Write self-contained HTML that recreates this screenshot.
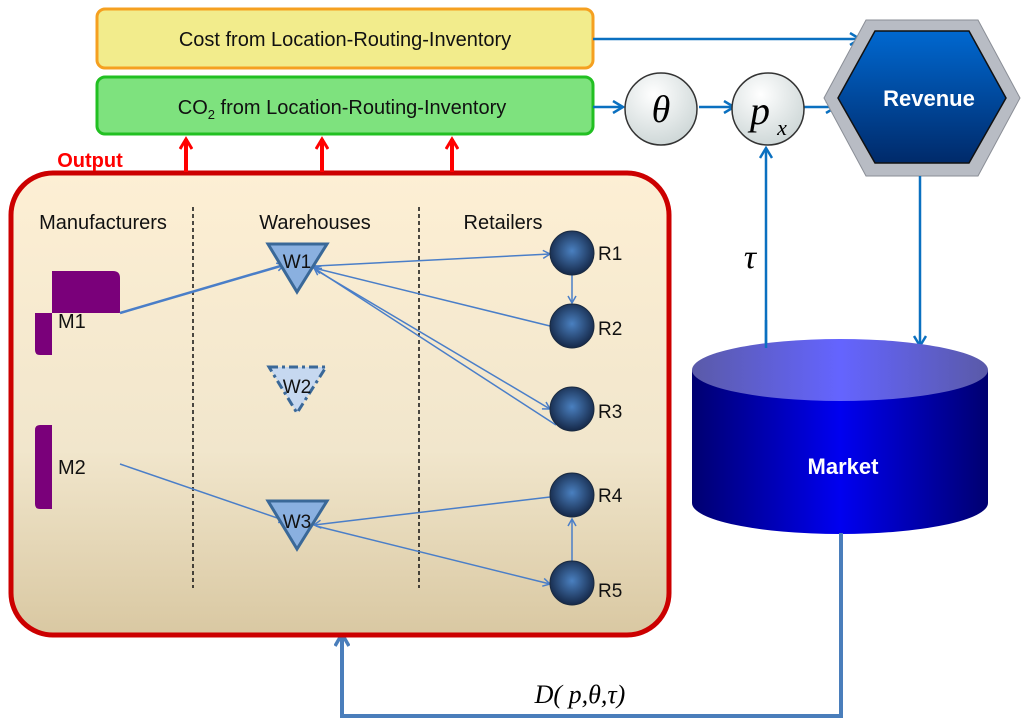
<!DOCTYPE html>
<html><head><meta charset="utf-8"><style>
html,body{margin:0;padding:0;background:#fff;}
svg{display:block;}
text{font-family:"Liberation Sans",sans-serif;}
text.m{font-family:"Liberation Serif",serif;font-style:italic;}
</style></head><body>
<svg width="1024" height="725" viewBox="0 0 1024 725" xmlns="http://www.w3.org/2000/svg">
<defs>
<linearGradient id="bg" x1="0" y1="0" x2="0" y2="1"><stop offset="0" stop-color="#fdefd4"/><stop offset="0.6" stop-color="#f1e6cc"/><stop offset="1" stop-color="#d9c8a2"/></linearGradient>
<linearGradient id="cyl" x1="0" y1="0" x2="1" y2="0"><stop offset="0" stop-color="#000070"/><stop offset="0.5" stop-color="#0000f0"/><stop offset="1" stop-color="#000070"/></linearGradient>
<linearGradient id="cyltop" x1="0" y1="0" x2="1" y2="0"><stop offset="0" stop-color="#5a5aa8"/><stop offset="0.5" stop-color="#6464ff"/><stop offset="1" stop-color="#5a5aa8"/></linearGradient>
<linearGradient id="hex" x1="0" y1="0" x2="0" y2="1"><stop offset="0" stop-color="#0068d0"/><stop offset="1" stop-color="#002a6a"/></linearGradient>
<radialGradient id="ball" cx="0.5" cy="0.45" r="0.55"><stop offset="0" stop-color="#4a80c0"/><stop offset="1" stop-color="#152848"/></radialGradient>
<radialGradient id="wb" cx="0.4" cy="0.3" r="0.7"><stop offset="0" stop-color="#ffffff"/><stop offset="1" stop-color="#cfd8d8"/></radialGradient>
<marker id="a" markerWidth="10" markerHeight="10" refX="8" refY="5" orient="auto" markerUnits="userSpaceOnUse"><path d="M1,1 L8,5 L1,9" fill="none" stroke="#4a7ec8" stroke-width="1.5"/></marker>
<marker id="b" markerWidth="14" markerHeight="14" refX="11" refY="7" orient="auto" markerUnits="userSpaceOnUse"><path d="M1,1 L11,7 L1,13" fill="none" stroke="#0a70c0" stroke-width="2.5"/></marker>
<marker id="r" markerWidth="14" markerHeight="14" refX="11" refY="7" orient="auto" markerUnits="userSpaceOnUse"><path d="M1,1 L11,7 L1,13" fill="none" stroke="#ff0000" stroke-width="3"/></marker>
<marker id="s" markerWidth="16" markerHeight="16" refX="13" refY="8" orient="auto" markerUnits="userSpaceOnUse"><path d="M1,1 L13,8 L1,15" fill="none" stroke="#4a7ebb" stroke-width="3.5"/></marker>
</defs>

<rect x="97" y="9" width="496" height="59" rx="8" fill="#f2ec8c" stroke="#f5a020" stroke-width="3"/>
<text x="345" y="46" font-size="20" text-anchor="middle" fill="#111">Cost from Location-Routing-Inventory</text>
<rect x="97" y="77" width="496" height="57" rx="8" fill="#7ee27e" stroke="#22c022" stroke-width="3"/>
<text x="342" y="114" font-size="20" text-anchor="middle" fill="#111">CO<tspan font-size="13" dy="5">2</tspan><tspan dy="-5"> from Location-Routing-Inventory</tspan></text>

<line x1="593" y1="39" x2="860" y2="39" stroke="#0a70c0" stroke-width="2.5" marker-end="url(#b)"/>
<line x1="593" y1="107" x2="623" y2="107" stroke="#0a70c0" stroke-width="2.5" marker-end="url(#b)"/>
<line x1="699" y1="107" x2="734" y2="107" stroke="#0a70c0" stroke-width="2.5" marker-end="url(#b)"/>
<line x1="801" y1="107" x2="836" y2="107" stroke="#0a70c0" stroke-width="2.5" marker-end="url(#b)"/>
<circle cx="661" cy="109" r="36" fill="url(#wb)" stroke="#333" stroke-width="1.5"/>
<text class="m" x="661" y="122" font-size="38" text-anchor="middle">θ</text>
<circle cx="768" cy="109" r="36" fill="url(#wb)" stroke="#333" stroke-width="1.5"/>
<text class="m" x="760" y="124" font-size="40" text-anchor="middle">p</text>
<text class="m" x="782" y="135" font-size="22" text-anchor="middle">x</text>
<line x1="766" y1="345" x2="766" y2="148" stroke="#0a70c0" stroke-width="2.5" marker-end="url(#b)"/>
<text class="m" x="750" y="268" font-size="34" text-anchor="middle">τ</text>

<polygon points="824,98 866,20 978,20 1020,98 978,176 866,176" fill="#b8bcc4" stroke="#8a8e96" stroke-width="1"/>
<polygon points="838,98 875,31 969,31 1006,98 969,163 875,163" fill="url(#hex)" stroke="#111" stroke-width="1.5"/>
<text x="929" y="106" font-size="22" font-weight="bold" text-anchor="middle" fill="#fff">Revenue</text>
<line x1="920" y1="176" x2="920" y2="346" stroke="#0a70c0" stroke-width="2.5" marker-end="url(#b)"/>

<path d="M692,370 L692,503 A148,31 0 0 0 988,503 L988,370 Z" fill="url(#cyl)"/>
<ellipse cx="840" cy="370" rx="148" ry="31" fill="url(#cyltop)"/>
<line x1="766" y1="320" x2="766" y2="348" stroke="#0a70c0" stroke-width="2.5"/>
<text x="843" y="474" font-size="22" font-weight="bold" text-anchor="middle" fill="#fff">Market</text>

<polyline points="841,533 841,716 342,716 342,634" fill="none" stroke="#4a7ebb" stroke-width="4" marker-end="url(#s)"/>
<text class="m" x="580" y="703" font-size="26" text-anchor="middle">D( p,θ,τ)</text>

<rect x="11" y="173" width="658" height="462" rx="42" fill="url(#bg)" stroke="#cc0000" stroke-width="5"/>
<text x="90" y="167" font-size="20" font-weight="bold" text-anchor="middle" fill="#ff0000">Output</text>
<line x1="186" y1="172" x2="186" y2="139" stroke="#ff0000" stroke-width="4" marker-end="url(#r)"/>
<line x1="322" y1="172" x2="322" y2="139" stroke="#ff0000" stroke-width="4" marker-end="url(#r)"/>
<line x1="452" y1="172" x2="452" y2="139" stroke="#ff0000" stroke-width="4" marker-end="url(#r)"/>

<line x1="193" y1="207" x2="193" y2="588" stroke="#111" stroke-width="1.5" stroke-dasharray="4,3"/>
<line x1="419" y1="207" x2="419" y2="588" stroke="#111" stroke-width="1.5" stroke-dasharray="4,3"/>
<text x="103" y="229" font-size="20" text-anchor="middle" fill="#111">Manufacturers</text>
<text x="315" y="229" font-size="20" text-anchor="middle" fill="#111">Warehouses</text>
<text x="503" y="229" font-size="20" text-anchor="middle" fill="#111">Retailers</text>

<path d="M52,271 L113,271 Q120,271 120,278 L120,313 L52,313 Z" fill="#7a007a"/>
<path d="M35,313 L52,313 L52,355 L40,355 Q35,355 35,350 Z" fill="#7a007a"/>
<path d="M40,425 L52,425 L52,509 L40,509 Q35,509 35,504 L35,430 Q35,425 40,425 Z" fill="#7a007a"/>
<text x="58" y="328" font-size="20" fill="#111">M1</text>
<text x="58" y="474" font-size="20" fill="#111">M2</text>

<g stroke="#4a7ec8" stroke-width="1.5" fill="none">
<line x1="120" y1="313" x2="284" y2="265" stroke-width="2.5" marker-end="url(#a)"/>
<line x1="316" y1="266" x2="550" y2="254" marker-end="url(#a)" marker-start="url(#a)"/>
<line x1="550" y1="326" x2="314" y2="268" marker-end="url(#a)"/>
<line x1="556" y1="425" x2="314" y2="268" marker-end="url(#a)"/>
<line x1="316" y1="270" x2="550" y2="409" marker-end="url(#a)"/>
<line x1="572" y1="275" x2="572" y2="303" marker-end="url(#a)"/>
<line x1="120" y1="464" x2="286" y2="521" marker-end="url(#a)"/>
<line x1="550" y1="497" x2="314" y2="525" marker-end="url(#a)"/>
<line x1="316" y1="526" x2="550" y2="584" marker-end="url(#a)"/>
<line x1="572" y1="564" x2="572" y2="519" marker-end="url(#a)"/>
</g>

<polygon points="268,244 327,244 297,292" fill="#8ab0e0" stroke="#3a6898" stroke-width="3"/>
<text x="297" y="268" font-size="19" text-anchor="middle" fill="#111">W1</text>
<polygon points="269,367 326,367 297,413" fill="#c6d8f0" stroke="#3a6898" stroke-width="3" stroke-dasharray="9,4,3,4"/>
<text x="297" y="393" font-size="19" text-anchor="middle" fill="#111">W2</text>
<polygon points="268,501 327,501 297,549" fill="#8ab0e0" stroke="#3a6898" stroke-width="3"/>
<text x="297" y="528" font-size="19" text-anchor="middle" fill="#111">W3</text>

<g fill="url(#ball)" stroke="#1a2a40" stroke-width="1">
<circle cx="572" cy="253" r="22"/>
<circle cx="572" cy="326" r="22"/>
<circle cx="572" cy="409" r="22"/>
<circle cx="572" cy="495" r="22"/>
<circle cx="572" cy="583" r="22"/>
</g>
<g font-size="19" fill="#111">
<text x="598" y="260">R1</text>
<text x="598" y="335">R2</text>
<text x="598" y="418">R3</text>
<text x="598" y="502">R4</text>
<text x="598" y="597">R5</text>
</g>
</svg>
</body></html>
